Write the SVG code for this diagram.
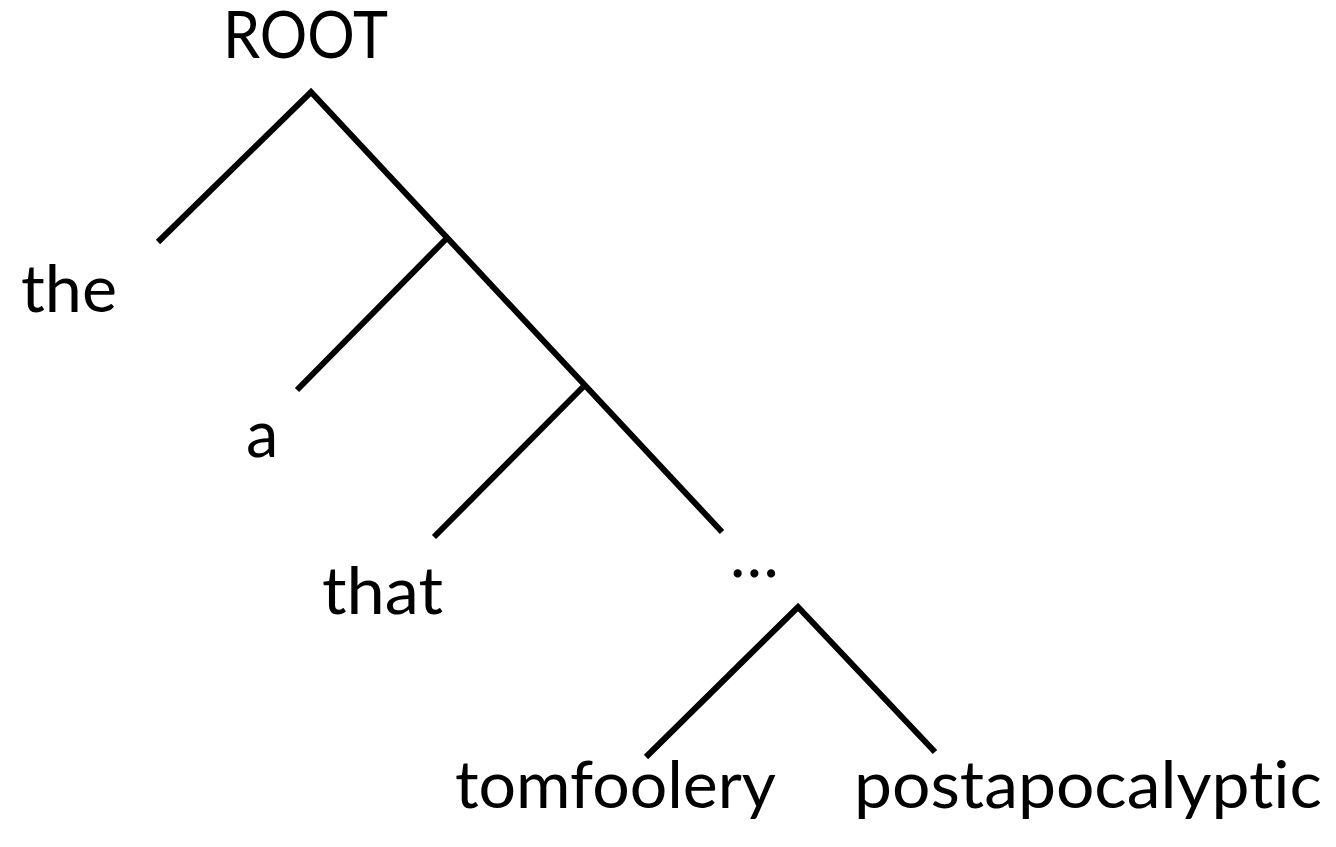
<svg xmlns="http://www.w3.org/2000/svg" width="1336" height="847" viewBox="0 0 1336 847">
<style>
text{font-family:Lato,"Open Sans","Liberation Sans",sans-serif;font-size:65px;fill:#000;font-variant-ligatures:none}
.e{stroke:#000;stroke-width:6;fill:none;stroke-linecap:butt;stroke-linejoin:miter}
</style>
<rect width="1336" height="847" fill="#fff"/>
<g id="connectors">
<polyline class="e" points="158,242 311,92 722,532"/>
<line class="e" x1="447" y1="238" x2="297" y2="390"/>
<line class="e" x1="585" y1="385" x2="434" y2="537"/>
<polyline class="e" points="646,757 798,607 935,752"/>
</g>
<g id="n-root"><text x="223" y="58" textLength="165" lengthAdjust="spacingAndGlyphs">ROOT</text></g>
<g id="n-the"><text x="21" y="312" textLength="96" lengthAdjust="spacingAndGlyphs">the</text></g>
<g id="n-a"><text x="246" y="457">a</text></g>
<g id="n-that"><text x="322" y="614" textLength="121" lengthAdjust="spacingAndGlyphs">that</text></g>
<g id="n-ellipsis"><text x="730" y="577">…</text></g>
<g id="n-tomfoolery"><text x="455" y="808" textLength="321" lengthAdjust="spacingAndGlyphs">tomfoolery</text></g>
<g id="n-postapocalyptic"><text x="854" y="808" textLength="468" lengthAdjust="spacingAndGlyphs">postapocalyptic</text></g>
</svg>
